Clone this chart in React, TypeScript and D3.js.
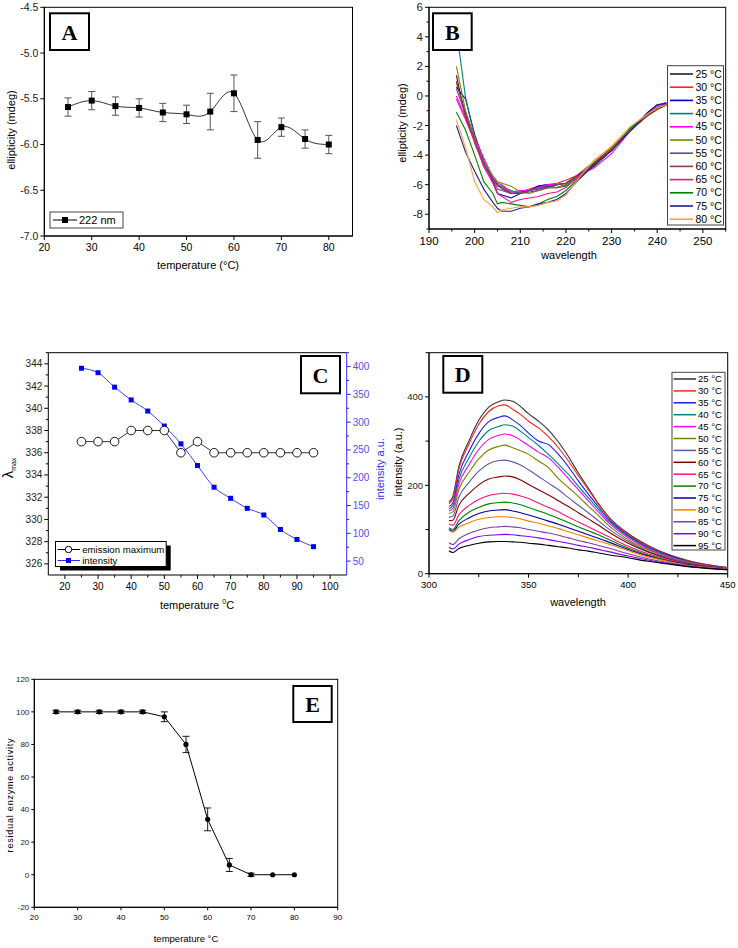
import React from "react";
import * as d3 from "d3";

const FONT = "'Liberation Sans', Arial, sans-serif";
const SERIF = "'Liberation Serif', 'Times New Roman', serif";
const NARROW = "'Liberation Sans Narrow', 'Arial Narrow', 'Liberation Sans', sans-serif";

// ---------- Panel A ----------
const tempA = [25, 30, 35, 40, 45, 50, 55, 60, 65, 70, 75, 80];
const ellipA = [-5.59, -5.52, -5.58, -5.6, -5.65, -5.67, -5.64, -5.44, -5.95, -5.81, -5.94, -6.0];
const errA = [0.1, 0.1, 0.1, 0.1, 0.1, 0.1, 0.2, 0.2, 0.2, 0.1, 0.1, 0.1];
const ticksAx = [20, 30, 40, 50, 60, 70, 80];
const ticksAy = [-7.0, -6.5, -6.0, -5.5, -5.0, -4.5];

// ---------- Panel B ----------
const wlB = [196, 198, 200, 202, 204, 205, 206, 208, 210, 212, 214, 216, 218, 220, 223, 226, 230, 234, 238, 240, 242];
const b25 = [1.4, -1.5, -3.0, -4.6, -5.6, -6.0, -6.2, -6.6, -6.5, -6.4, -6.2, -6.1, -6.2, -6.0, -5.3, -4.6, -3.5, -2.4, -1.3, -0.9, -0.6];
const b30 = [0.9, -1.2, -3.0, -4.5, -5.6, -6.1, -6.2, -6.5, -6.5, -6.3, -6.1, -6.0, -5.9, -5.7, -5.3, -4.7, -3.6, -2.3, -1.3, -0.9, -0.6];
const b35 = [0.6, -0.2, -2.6, -4.4, -5.8, -6.6, -6.7, -6.9, -6.6, -6.4, -6.1, -6.0, -6.0, -5.9, -5.3, -4.7, -3.6, -2.3, -1.1, -0.6, -0.5];
const b40 = [4.5, -0.1, -2.8, -4.5, -5.6, -6.0, -6.1, -6.4, -6.6, -6.4, -6.2, -6.2, -6.2, -6.1, -5.4, -4.8, -3.7, -2.3, -1.2, -0.8, -0.5];
const b45 = [0.0, -1.5, -2.8, -4.2, -5.5, -5.9, -6.0, -6.5, -6.4, -6.4, -6.2, -6.0, -6.0, -5.9, -5.3, -4.9, -3.9, -2.4, -1.2, -0.7, -0.4];
const b50 = [2.0, -1.0, -2.8, -4.5, -5.4, -5.8, -5.9, -6.1, -6.5, -6.6, -6.4, -6.2, -6.2, -6.0, -5.2, -4.5, -3.5, -2.3, -1.3, -0.9, -0.6];
const b55 = [0.5, -1.3, -3.0, -4.6, -5.6, -6.0, -6.3, -6.6, -6.6, -6.4, -6.3, -6.1, -6.0, -5.9, -5.3, -4.7, -3.6, -2.3, -1.2, -0.8, -0.6];
const b60 = [1.0, -1.2, -3.2, -4.7, -5.7, -6.3, -6.4, -6.6, -6.6, -6.5, -6.4, -6.2, -6.0, -5.9, -5.3, -4.7, -3.6, -2.3, -1.3, -0.9, -0.6];
const b65 = [-0.2, -1.6, -3.1, -4.8, -5.9, -6.6, -6.8, -7.2, -7.0, -6.9, -6.8, -6.6, -6.5, -6.2, -5.4, -4.7, -3.6, -2.3, -1.2, -0.8, -0.6];
const b70 = [-1.1, -2.3, -4.0, -5.8, -6.6, -7.3, -7.2, -7.3, -7.4, -7.5, -7.3, -7.0, -6.8, -6.4, -5.5, -4.8, -3.7, -2.2, -1.2, -0.8, -0.6];
const b75 = [-2.0, -3.8, -5.1, -6.3, -7.2, -7.6, -7.8, -7.8, -7.6, -7.5, -7.3, -7.2, -7.0, -6.6, -5.6, -4.7, -3.7, -2.4, -1.1, -0.6, -0.5];
const b80 = [-1.6, -3.5, -5.8, -7.0, -7.5, -7.9, -7.7, -7.6, -7.5, -7.5, -7.4, -7.2, -7.1, -6.7, -5.5, -4.4, -3.4, -2.1, -1.2, -0.8, -0.6];
const seriesB = [b25, b30, b35, b40, b45, b50, b55, b60, b65, b70, b75, b80];
const labelsB = ["25 °C", "30 °C", "35 °C", "40 °C", "45 °C", "50 °C", "55 °C", "60 °C", "65 °C", "70 °C", "75 °C", "80 °C"];
const colorsB = ["#222222", "#ff2020", "#0000c0", "#008080", "#ff00ff", "#808000", "#5050a0", "#804040", "#ff1090", "#008000", "#202090", "#ffa040"];
const ticksBx = [190, 200, 210, 220, 230, 240, 250];
const ticksBy = [-8, -6, -4, -2, 0, 2, 4, 6];

// ---------- Panel C ----------
const tempC = [25, 30, 35, 40, 45, 50, 55, 60, 65, 70, 75, 80, 85, 90, 95];
const emC = [337, 337, 337, 338, 338, 338, 336, 337, 336, 336, 336, 336, 336, 336, 336];
const intC = [397, 389, 363, 340, 320, 293, 261, 222, 183, 163, 145, 133, 107, 89, 76];
const ticksCx = [20, 30, 40, 50, 60, 70, 80, 90, 100];
const ticksCyL = [326, 328, 330, 332, 334, 336, 338, 340, 342, 344];
const ticksCyR = [50, 100, 150, 200, 250, 300, 350, 400];

// ---------- Panel D ----------
const wlD = [310, 312, 315, 320, 325, 330, 335, 338, 342, 346, 350, 355, 360, 365, 370, 375, 380, 385, 390, 400, 410, 420, 430, 440, 450];
const d25 = [162, 175, 243, 300, 347, 377, 389, 393, 390, 378, 362, 345, 325, 298, 265, 228, 194, 159, 130, 91, 64, 44, 30, 20, 14];
const d30 = [158, 170, 237, 293, 338, 367, 380, 382, 372, 360, 345, 330, 310, 285, 255, 222, 190, 158, 128, 88, 62, 43, 29, 20, 14];
const d35 = [152, 160, 224, 276, 317, 344, 354, 357, 348, 335, 318, 300, 292, 270, 242, 210, 180, 152, 124, 86, 60, 42, 28, 19, 13];
const d40 = [147, 154, 213, 261, 299, 324, 333, 337, 334, 322, 308, 290, 270, 248, 225, 198, 172, 146, 120, 84, 58, 40, 27, 18, 13];
const d45 = [142, 148, 203, 246, 281, 304, 313, 316, 312, 302, 290, 275, 262, 240, 215, 190, 165, 140, 116, 81, 56, 39, 26, 18, 12];
const d50 = [136, 140, 190, 229, 260, 280, 288, 291, 285, 278, 270, 255, 240, 215, 195, 175, 153, 132, 110, 77, 54, 37, 25, 17, 12];
const d55 = [128, 130, 173, 206, 232, 249, 256, 257, 253, 246, 235, 220, 205, 190, 172, 155, 138, 120, 102, 73, 51, 36, 24, 16, 11];
const d60 = [120, 121, 155, 181, 201, 214, 219, 221, 219, 212, 202, 190, 178, 165, 152, 138, 124, 110, 95, 69, 49, 34, 23, 16, 11];
const d65 = [112, 110, 133, 154, 168, 177, 181, 182, 180, 176, 170, 160, 150, 140, 128, 117, 106, 95, 84, 62, 45, 32, 22, 15, 11];
const d70 = [104, 100, 120, 139, 150, 158, 161, 162, 160, 156, 150, 142, 134, 125, 116, 106, 97, 88, 78, 58, 42, 30, 21, 15, 10];
const d75 = [100, 96, 112, 126, 136, 142, 144, 145, 142, 138, 133, 126, 119, 112, 104, 96, 88, 80, 72, 55, 40, 29, 20, 14, 10];
const d80 = [98, 94, 105, 115, 123, 127, 129, 129, 127, 124, 119, 114, 108, 102, 95, 88, 81, 74, 67, 52, 38, 28, 19, 14, 10];
const d85 = [70, 66, 79, 91, 99, 104, 106, 107, 106, 104, 100, 96, 92, 87, 81, 75, 70, 64, 58, 45, 34, 25, 18, 13, 9];
const d90 = [60, 56, 67, 77, 84, 87, 88, 89, 88, 86, 84, 81, 77, 73, 69, 64, 60, 55, 50, 40, 31, 23, 17, 12, 9];
const d95 = [52, 48, 57, 64, 69, 72, 73, 73, 72, 71, 69, 67, 64, 61, 58, 54, 51, 47, 43, 36, 28, 22, 16, 12, 9];
const seriesD = [d25, d30, d35, d40, d45, d50, d55, d60, d65, d70, d75, d80, d85, d90, d95];
const labelsD = ["25 °C", "30 °C", "35 °C", "40 °C", "45 °C", "50 °C", "55 °C", "60 °C", "65 °C", "70 °C", "75 °C", "80 °C", "85 °C", "90 °C", "95 °C"];
const colorsD = ["#333333", "#ff2020", "#1a1aee", "#008080", "#ff00ff", "#808000", "#5a5aa0", "#800000", "#ff1080", "#008000", "#0000a0", "#ff8000", "#8040a0", "#8000ff", "#000000"];
const ticksDx = [300, 350, 400, 450];
const ticksDy = [0, 200, 400];

// ---------- Panel E ----------
const tempE = [25, 30, 35, 40, 45, 50, 55, 60, 65, 70, 75, 80];
const actE = [100, 100, 100, 100, 100, 97, 80, 34, 6, 0, 0, 0];
const errE = [1, 1, 1, 1, 1, 3, 5, 7, 4, 1, 0, 0];
const ticksEx = [20, 30, 40, 50, 60, 70, 80, 90];
const ticksEy = [-20, 0, 20, 40, 60, 80, 100, 120];

type Sc = d3.ScaleLinear<number, number>;

function VAxis(p: { x: number; sc: Sc; major: number[]; minor?: number[]; fmt: (v: number) => string; side?: string; color?: string; textColor?: string; fs?: number; font?: string; tl?: number; ml?: number; gap?: number }) {
  const { x, sc, major, minor = [], fmt, side = "left", color = "#000", textColor, fs = 10, font = FONT, tl = 4, ml = 2.5, gap = 2 } = p;
  const dir = side === "left" ? -1 : 1;
  const [r0, r1] = sc.range();
  return (
    <g>
      <line x1={x} x2={x} y1={r0} y2={r1} stroke={color} strokeWidth={1} />
      {minor.map((v, i) => (
        <line key={"m" + i} x1={x} x2={x + dir * ml} y1={sc(v)} y2={sc(v)} stroke={color} />
      ))}
      {major.map((v, i) => (
        <g key={i}>
          <line x1={x} x2={x + dir * tl} y1={sc(v)} y2={sc(v)} stroke={color} />
          <text x={x + dir * (tl + gap)} y={sc(v)} dy="0.35em" textAnchor={side === "left" ? "end" : "start"} fontSize={fs} fontFamily={font} fill={textColor || color}>
            {fmt(v)}
          </text>
        </g>
      ))}
    </g>
  );
}

function HAxis(p: { y: number; sc: Sc; major: number[]; minor?: number[]; fmt: (v: number) => string; color?: string; fs?: number; font?: string; tl?: number; ml?: number; gap?: number }) {
  const { y, sc, major, minor = [], fmt, color = "#000", fs = 10, font = FONT, tl = 4, ml = 2.5, gap = 3 } = p;
  const [r0, r1] = sc.range();
  return (
    <g>
      <line x1={r0} x2={r1} y1={y} y2={y} stroke={color} strokeWidth={1} />
      {minor.map((v, i) => (
        <line key={"m" + i} x1={sc(v)} x2={sc(v)} y1={y} y2={y + ml} stroke={color} />
      ))}
      {major.map((v, i) => (
        <g key={i}>
          <line x1={sc(v)} x2={sc(v)} y1={y} y2={y + tl} stroke={color} />
          <text x={sc(v)} y={y + tl + gap} dy="0.75em" textAnchor="middle" fontSize={fs} fontFamily={font} fill={color}>
            {fmt(v)}
          </text>
        </g>
      ))}
    </g>
  );
}

function PanelLabel({ x, y, w, h, t }: { x: number; y: number; w: number; h: number; t: string }) {
  return (
    <g>
      <rect x={x} y={y} width={w} height={h} fill="#fff" stroke="#000" strokeWidth={2} />
      <text x={x + w / 2} y={y + h / 2} dy="0.36em" textAnchor="middle" fontFamily={SERIF} fontWeight="bold" fontSize={22}>
        {t}
      </text>
    </g>
  );
}

function PanelA() {
  const x = d3.scaleLinear().domain([20, 85]).range([44.3, 352.5]);
  const y = d3.scaleLinear().domain([-7, -4.5]).range([236, 7.3]);
  const line = d3.line<number>().x((d, i) => x(tempA[i])).y((d) => y(d)).curve(d3.curveNatural);
  return (
    <g>
      <rect x={44.3} y={7.3} width={308.2} height={228.7} fill="none" stroke="#000" />
      <VAxis x={44.3} sc={y} major={ticksAy} fmt={(v) => v.toFixed(1)} fs={10.5} color="#000" textColor="#222" />
      <HAxis y={236} sc={x} major={ticksAx} fmt={(v) => String(v)} fs={10.5} />
      <path d={line(ellipA) || ""} fill="none" stroke="#000" strokeWidth={0.8} />
      {tempA.map((t, i) => (
        <g key={i} stroke="#555" strokeWidth={1}>
          <line x1={x(t)} x2={x(t)} y1={y(ellipA[i] - errA[i])} y2={y(ellipA[i] + errA[i])} />
          <line x1={x(t) - 3.5} x2={x(t) + 3.5} y1={y(ellipA[i] - errA[i])} y2={y(ellipA[i] - errA[i])} />
          <line x1={x(t) - 3.5} x2={x(t) + 3.5} y1={y(ellipA[i] + errA[i])} y2={y(ellipA[i] + errA[i])} />
        </g>
      ))}
      {tempA.map((t, i) => (
        <rect key={i} x={x(t) - 3} y={y(ellipA[i]) - 3} width={6} height={6} fill="#000" />
      ))}
      <PanelLabel x={50} y={13.3} w={39} h={36.7} t="A" />
      <rect x={50} y={212} width={73} height={16} fill="#fff" stroke="#444" />
      <line x1={53} x2={77} y1={220} y2={220} stroke="#000" />
      <rect x={62} y={217} width={6} height={6} fill="#000" />
      <text x={79} y={220} dy="0.35em" fontSize={11} fontFamily={FONT}>222 nm</text>
      <text transform="translate(11,130) rotate(-90)" textAnchor="middle" dy="0.35em" fontSize={11} fontFamily={FONT}>ellipticity (mdeg)</text>
      <text x={198} y={265} dy="0.35em" textAnchor="middle" fontSize={11} fontFamily={FONT}>temperature (°C)</text>
    </g>
  );
}

function PanelB() {
  const x = d3.scaleLinear().domain([190, 255]).range([429, 725.7]);
  const y = d3.scaleLinear().domain([-9, 6]).range([229, 7.3]);
  const line = d3.line<number>().x((d, i) => x(wlB[i])).y((d) => y(d));
  return (
    <g>
      <rect x={429} y={7.3} width={296.7} height={221.7} fill="none" stroke="#000" />
      <VAxis x={429} sc={y} major={ticksBy} minor={[-9, -7, -5, -3, -1, 1, 3, 5]} fmt={(v) => String(v)} fs={11.5} textColor="#222" />
      <HAxis y={229} sc={x} major={ticksBx} minor={[195, 205, 215, 225, 235, 245, 255]} fmt={(v) => String(v)} fs={11.5} />
      {seriesB.map((s, k) => (
        <path key={k} d={line(s) || ""} fill="none" stroke={colorsB[k]} strokeWidth={1.1} />
      ))}
      <PanelLabel x={433} y={13.3} w={38.7} h={36.7} t="B" />
      <rect x={667.5} y={65.7} width={56} height={159.3} fill="#fff" stroke="#444" />
      {labelsB.map((l, i) => (
        <g key={i}>
          <line x1={670} x2={693} y1={74 + i * 13.2} y2={74 + i * 13.2} stroke={colorsB[i]} strokeWidth={1.6} />
          <text x={695.5} y={74 + i * 13.2} dy="0.35em" fontSize={10.5} fontFamily={FONT}>{l}</text>
        </g>
      ))}
      <text transform="translate(401.7,123) rotate(-90)" textAnchor="middle" dy="0.35em" fontSize={11} fontFamily={FONT}>ellipticity (mdeg)</text>
      <text x={569} y={255} dy="0.35em" textAnchor="middle" fontSize={11} fontFamily={FONT}>wavelength</text>
    </g>
  );
}

function PanelC() {
  const x = d3.scaleLinear().domain([15, 105]).range([48.3, 346.7]);
  const yL = d3.scaleLinear().domain([325, 345]).range([575, 352.7]);
  const yR = d3.scaleLinear().domain([25, 425]).range([575, 352.7]);
  const lineE = d3.line<number>().x((d, i) => x(tempC[i])).y((d) => yL(d));
  const lineI = d3.line<number>().x((d, i) => x(tempC[i])).y((d) => yR(d)).curve(d3.curveMonotoneX);
  const blue = "#2a2aff";
  return (
    <g>
      <line x1={48.3} x2={346.7} y1={352.7} y2={352.7} stroke="#000" />
      <VAxis x={48.3} sc={yL} major={ticksCyL} minor={[327, 329, 331, 333, 335, 337, 339, 341, 343, 345]} fmt={(v) => String(v)} fs={10} textColor="#222" />
      <VAxis x={346.7} sc={yR} side="right" major={ticksCyR} minor={[75, 125, 175, 225, 275, 325, 375, 425]} fmt={(v) => String(v)} fs={10} color={blue} textColor="#5050ee" />
      <HAxis y={575} sc={x} major={ticksCx} minor={[25, 35, 45, 55, 65, 75, 85, 95]} fmt={(v) => String(v)} fs={10} />
      <path d={lineI(intC) || ""} fill="none" stroke={blue} strokeWidth={0.9} />
      <path d={lineE(emC) || ""} fill="none" stroke="#000" strokeWidth={0.8} />
      {tempC.map((t, i) => (
        <rect key={"s" + i} x={x(t) - 2.5} y={yR(intC[i]) - 2.5} width={5} height={5} fill="#0000ee" />
      ))}
      {tempC.map((t, i) => (
        <circle key={"c" + i} cx={x(t)} cy={yL(emC[i])} r={4.3} fill="#fff" stroke="#000" strokeWidth={0.9} />
      ))}
      <PanelLabel x={301} y={356} w={39} h={37.3} t="C" />
      <rect x={60} y={545.5} width={110.7} height={25} fill="#000" />
      <rect x={55.5} y={541.5} width={110.7} height={25} fill="#fff" stroke="#000" />
      <line x1={57.5} x2={80} y1={549.5} y2={549.5} stroke="#000" />
      <circle cx={68.5} cy={549.5} r={3.2} fill="#fff" stroke="#000" />
      <text x={82.2} y={549.5} dy="0.35em" fontSize={9.6} fontFamily={FONT}>emission maximum</text>
      <line x1={57.5} x2={80} y1={560.5} y2={560.5} stroke={blue} />
      <rect x={66} y={558} width={5} height={5} fill="#0000ee" />
      <text x={82.2} y={560.5} dy="0.35em" fontSize={9.6} fontFamily={FONT}>intensity</text>
      <text transform="translate(8,468) rotate(-90)" textAnchor="middle" dy="0.35em" fontSize={15} fontFamily={FONT}>
        λ<tspan fontSize={7} dy={3}>max</tspan>
      </text>
      <text transform="translate(380.5,469) rotate(-90)" textAnchor="middle" dy="0.35em" fontSize={11} fontFamily={FONT} fill="#3333dd">intensity a.u.</text>
      <text x={197} y={605} dy="0.35em" textAnchor="middle" fontSize={11} fontFamily={FONT}>
        temperature <tspan fontSize={7} dy={-5}>0</tspan><tspan dy={5}>C</tspan>
      </text>
    </g>
  );
}

function PanelD() {
  const x = d3.scaleLinear().domain([300, 450]).range([429, 727.7]);
  const y = d3.scaleLinear().domain([0, 500]).range([573.7, 352.7]);
  const line = d3.line<number>().x((d, i) => x(wlD[i])).y((d) => y(d)).curve(d3.curveMonotoneX);
  return (
    <g>
      <rect x={429} y={352.7} width={298.7} height={221} fill="none" stroke="#000" />
      <VAxis x={429} sc={y} major={ticksDy} minor={[100, 300, 500]} fmt={(v) => String(v)} fs={9.5} textColor="#222" ml={3.5} />
      <HAxis y={573.7} sc={x} major={ticksDx} minor={[325, 375, 425]} fmt={(v) => String(v)} fs={9.5} ml={3.5} />
      {seriesD.map((s, k) => (
        <path key={k} d={line(s) || ""} fill="none" stroke={colorsD[k]} strokeWidth={1.1} />
      ))}
      <PanelLabel x={443.3} y={356} w={39} h={36.7} t="D" />
      <rect x={672} y={372.3} width={53} height={177.7} fill="#fff" stroke="#444" />
      {labelsD.map((l, i) => (
        <g key={i}>
          <line x1={673.5} x2={696} y1={379 + i * 11.9} y2={379 + i * 11.9} stroke={colorsD[i]} strokeWidth={1.5} />
          <text x={698} y={379 + i * 11.9} dy="0.35em" fontSize={9.5} fontFamily={FONT}>{l}</text>
        </g>
      ))}
      <text transform="translate(398.3,462) rotate(-90)" textAnchor="middle" dy="0.35em" fontSize={11} fontFamily={FONT}>intensity (a.u.)</text>
      <text x={578} y={601.7} dy="0.35em" textAnchor="middle" fontSize={11} fontFamily={FONT}>wavelength</text>
    </g>
  );
}

function PanelE() {
  const x = d3.scaleLinear().domain([20, 90]).range([34.3, 337.7]);
  const y = d3.scaleLinear().domain([-20, 120]).range([907.3, 679.3]);
  const line = d3.line<number>().x((d, i) => x(tempE[i])).y((d) => y(d));
  return (
    <g>
      <rect x={34.3} y={679.3} width={303.4} height={228} fill="none" stroke="#000" />
      <VAxis x={34.3} sc={y} major={ticksEy} fmt={(v) => String(v)} fs={8} font={NARROW} textColor="#222" tl={3} gap={2} />
      <HAxis y={907.3} sc={x} major={ticksEx} fmt={(v) => String(v)} fs={8} font={NARROW} tl={3} gap={4} />
      <path d={line(actE) || ""} fill="none" stroke="#000" strokeWidth={1} />
      {tempE.map((t, i) =>
        errE[i] > 0 ? (
          <g key={i} stroke="#000" strokeWidth={0.9}>
            <line x1={x(t)} x2={x(t)} y1={y(actE[i] - errE[i])} y2={y(actE[i] + errE[i])} />
            <line x1={x(t) - 3.5} x2={x(t) + 3.5} y1={y(actE[i] - errE[i])} y2={y(actE[i] - errE[i])} />
            <line x1={x(t) - 3.5} x2={x(t) + 3.5} y1={y(actE[i] + errE[i])} y2={y(actE[i] + errE[i])} />
          </g>
        ) : null
      )}
      {tempE.map((t, i) => (
        <circle key={i} cx={x(t)} cy={y(actE[i])} r={2.6} fill="#000" />
      ))}
      <PanelLabel x={293.3} y={686} w={38.4} h={36} t="E" />
      <text transform="translate(10,795) rotate(-90)" textAnchor="middle" dy="0.35em" fontSize={9} letterSpacing={0.8} fontFamily={FONT}>residual enzyme activity</text>
      <text x={186} y={939} dy="0.35em" textAnchor="middle" fontSize={9.5} fontFamily={NARROW}>temperature °C</text>
    </g>
  );
}

export default function App() {
  return (
    <svg width={738} height={948} style={{ position: "absolute", left: 0, top: 0, background: "#fff" }}>
      <rect width={738} height={948} fill="#fff" />
      <PanelA />
      <PanelB />
      <PanelC />
      <PanelD />
      <PanelE />
    </svg>
  );
}
